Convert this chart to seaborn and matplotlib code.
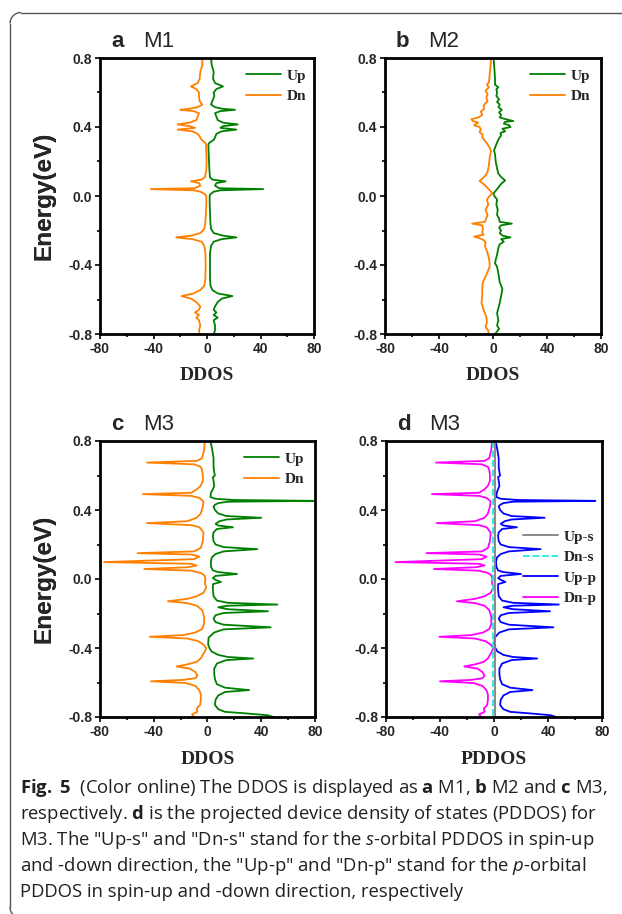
import matplotlib
matplotlib.use('Agg')
import matplotlib.pyplot as plt
import seaborn as sns
from matplotlib.patches import Arc
from matplotlib.ticker import MultipleLocator, FormatStrFormatter
from matplotlib.font_manager import FontProperties

# ---- data: (energy eV, DDOS) ----
m1_up = [(0.80, 3.0), (0.76, 3.5), (0.72, 5), (0.68, 4.5), (0.655, 6), (0.635, 12), (0.62, 7),
         (0.60, 5), (0.58, 5.5), (0.55, 4), (0.53, 3), (0.515, 6), (0.505, 12), (0.50, 21),
         (0.492, 10), (0.48, 6), (0.46, 7), (0.44, 8), (0.425, 12), (0.415, 23), (0.405, 12),
         (0.395, 10), (0.385, 22), (0.375, 11), (0.36, 7), (0.34, 6), (0.325, 5), (0.31, 2),
         (0.30, 1), (0.25, 1.2), (0.20, 1.5), (0.15, 1.8), (0.11, 2.2), (0.095, 4), (0.085, 14),
         (0.075, 7), (0.06, 6), (0.045, 9), (0.04, 42), (0.033, 10), (0.025, 5), (0.01, 2.5),
         (0.0, 2), (-0.05, 2), (-0.10, 2.3), (-0.15, 2.5), (-0.19, 3), (-0.215, 5), (-0.23, 12),
         (-0.24, 22), (-0.25, 11), (-0.265, 5), (-0.29, 3), (-0.33, 2.3), (-0.40, 2.2),
         (-0.48, 2.3), (-0.52, 2.6), (-0.545, 4), (-0.565, 8), (-0.58, 19), (-0.595, 11),
         (-0.615, 8), (-0.64, 6), (-0.66, 5), (-0.675, 7), (-0.69, 5), (-0.705, 8), (-0.72, 5),
         (-0.75, 6), (-0.78, 6), (-0.80, 5)]
m1_dn = [(0.80, -3.5), (0.76, -3.5), (0.72, -5), (0.68, -5.5), (0.655, -7), (0.635, -12),
         (0.62, -8), (0.60, -6), (0.58, -6), (0.55, -5.5), (0.53, -3.5), (0.515, -7),
         (0.505, -14), (0.50, -20), (0.492, -10), (0.48, -6), (0.46, -7), (0.44, -8),
         (0.425, -13), (0.415, -22), (0.405, -13), (0.395, -9), (0.385, -22), (0.375, -11),
         (0.36, -7), (0.34, -5), (0.325, -4), (0.31, -1.5), (0.30, -0.8), (0.25, -0.5),
         (0.20, -0.3), (0.15, -0.5), (0.11, -1.5), (0.095, -4), (0.085, -12), (0.075, -6),
         (0.06, -5), (0.045, -9), (0.04, -42), (0.033, -10), (0.025, -5), (0.01, -1.5),
         (0.0, -0.5), (-0.05, -0.5), (-0.10, -0.8), (-0.15, -1.2), (-0.19, -2), (-0.215, -5),
         (-0.23, -12), (-0.24, -23), (-0.25, -11), (-0.265, -4), (-0.29, -2), (-0.33, -1.2),
         (-0.40, -1), (-0.48, -1.2), (-0.52, -2), (-0.545, -5), (-0.565, -10), (-0.58, -19),
         (-0.595, -12), (-0.615, -8), (-0.64, -5), (-0.66, -6), (-0.675, -9), (-0.69, -6),
         (-0.705, -8), (-0.72, -6), (-0.75, -5), (-0.78, -6), (-0.80, -5.5)]

m2_up = [(0.80, 0.4), (0.74, 1), (0.68, 1.5), (0.645, 1.5), (0.63, 4), (0.62, 2.5), (0.60, 3),
         (0.58, 2.5), (0.56, 4.5), (0.545, 3), (0.53, 5), (0.515, 4), (0.50, 6.5), (0.485, 4.5),
         (0.47, 6), (0.455, 5), (0.44, 12), (0.435, 15), (0.43, 9), (0.42, 8), (0.41, 12),
         (0.40, 13), (0.39, 7), (0.375, 9), (0.365, 5.5), (0.35, 6), (0.335, 4.5), (0.31, 3),
         (0.28, 1.5), (0.265, 0.8), (0.24, 1.5), (0.20, 2), (0.16, 3), (0.13, 4), (0.11, 6),
         (0.09, 9), (0.07, 6), (0.04, 3), (0.015, 0.4), (0.0, 1), (-0.02, 3), (-0.05, 2.5),
         (-0.08, 3.5), (-0.11, 3), (-0.13, 4.5), (-0.15, 5), (-0.16, 14), (-0.17, 6),
         (-0.185, 4.5), (-0.20, 6), (-0.215, 5), (-0.23, 7), (-0.24, 13), (-0.25, 6),
         (-0.265, 8), (-0.28, 5), (-0.30, 4), (-0.34, 3), (-0.37, 2), (-0.39, 1.5), (-0.41, 3),
         (-0.45, 4), (-0.50, 5), (-0.54, 7), (-0.58, 6), (-0.62, 5), (-0.65, 4), (-0.68, 3),
         (-0.72, 4), (-0.75, 3), (-0.77, 4.5), (-0.79, 2.5), (-0.80, 1.6)]
m2_dn = [(0.80, -1.4), (0.74, -2), (0.70, -2.5), (0.66, -3), (0.645, -4.5), (0.63, -3),
         (0.61, -5.5), (0.59, -4), (0.57, -5), (0.55, -4), (0.535, -6), (0.52, -7),
         (0.505, -6.5), (0.49, -9), (0.47, -8), (0.455, -11), (0.445, -16), (0.435, -15),
         (0.425, -11), (0.41, -14), (0.40, -10), (0.385, -9), (0.37, -10), (0.355, -7.5),
         (0.34, -8), (0.32, -6), (0.30, -4), (0.28, -2.5), (0.26, -1.5), (0.22, -2.5),
         (0.18, -3), (0.14, -4), (0.12, -5.5), (0.10, -8), (0.087, -10), (0.07, -7),
         (0.05, -4.5), (0.03, -2), (0.015, -0.5), (0.0, -2.5), (-0.02, -4.5), (-0.05, -3.5),
         (-0.08, -5.5), (-0.11, -4), (-0.13, -5), (-0.15, -6), (-0.16, -15.5), (-0.17, -8),
         (-0.19, -7.5), (-0.21, -8), (-0.225, -7), (-0.235, -14), (-0.245, -10), (-0.255, -7),
         (-0.27, -5.5), (-0.29, -6), (-0.32, -4.5), (-0.36, -3), (-0.39, -2.5), (-0.41, -2.5),
         (-0.45, -4.5), (-0.50, -7.5), (-0.54, -8), (-0.58, -8), (-0.62, -8.5), (-0.66, -7),
         (-0.70, -5), (-0.73, -4.5), (-0.76, -5.5), (-0.78, -3.5), (-0.80, -3.3)]

m3_up = [(0.80, 2.2), (0.75, 3.5), (0.70, 4.5), (0.65, 4.5), (0.62, 5), (0.60, 5.5), (0.59, 4),
         (0.57, 4.5), (0.54, 5), (0.52, 4), (0.50, 2.5), (0.475, 2.2), (0.465, 6), (0.458, 20),
         (0.453, 80), (0.448, 15), (0.44, 8), (0.43, 5.5), (0.42, 4.5), (0.40, 5.5), (0.38, 8),
         (0.365, 14), (0.355, 40), (0.345, 14), (0.335, 9), (0.32, 6), (0.31, 8), (0.30, 19),
         (0.29, 7), (0.27, 4.5), (0.25, 4), (0.22, 4.5), (0.20, 6), (0.185, 12), (0.173, 37),
         (0.16, 12), (0.145, 6), (0.125, 3.2), (0.10, 2.5), (0.07, 2.7), (0.05, 4), (0.04, 8),
         (0.029, 22), (0.018, 6), (0.005, 4), (-0.005, 6), (-0.017, 10), (-0.03, 4),
         (-0.06, 4), (-0.10, 4.5), (-0.125, 7), (-0.138, 15), (-0.148, 52), (-0.155, 15),
         (-0.164, 8), (-0.175, 15), (-0.187, 45), (-0.197, 12), (-0.21, 6), (-0.23, 4.5),
         (-0.25, 6), (-0.265, 12), (-0.28, 47), (-0.292, 12), (-0.31, 5), (-0.34, 0.8),
         (-0.38, 0.5), (-0.40, 1.5), (-0.42, 3), (-0.44, 8), (-0.452, 15), (-0.461, 34),
         (-0.47, 14), (-0.49, 7), (-0.52, 5), (-0.55, 5), (-0.58, 5.5), (-0.61, 7), (-0.63, 13),
         (-0.644, 31), (-0.655, 13), (-0.675, 8), (-0.70, 6), (-0.73, 5.5), (-0.755, 8),
         (-0.77, 13), (-0.78, 30), (-0.79, 45), (-0.80, 49)]
m3_dn = [(0.80, -2), (0.75, -2.5), (0.70, -4), (0.685, -8), (0.675, -45), (0.665, -10),
         (0.65, -5), (0.63, -4), (0.60, -3.5), (0.57, -3.5), (0.54, -5), (0.52, -8),
         (0.50, -12), (0.492, -48), (0.482, -12), (0.47, -6), (0.45, -3), (0.42, -3.5),
         (0.38, -5), (0.355, -8), (0.335, -15), (0.324, -45), (0.312, -12), (0.30, -6),
         (0.27, -3), (0.22, -3.5), (0.18, -5), (0.16, -10), (0.15, -52), (0.142, -12),
         (0.13, -6), (0.115, -10), (0.098, -77), (0.088, -12), (0.078, -8), (0.068, -15),
         (0.058, -47), (0.048, -12), (0.035, -5), (0.02, -2.2), (0.0, -1.5), (-0.02, -2),
         (-0.05, -1), (-0.08, -3), (-0.10, -8), (-0.115, -15), (-0.129, -29.5), (-0.14, -15),
         (-0.155, -8), (-0.18, -4), (-0.22, -2.5), (-0.26, -2.5), (-0.29, -4), (-0.31, -9),
         (-0.325, -18), (-0.335, -43), (-0.345, -15), (-0.36, -7), (-0.38, -3), (-0.40, -1),
         (-0.42, -2), (-0.44, -3.5), (-0.46, -5), (-0.48, -8), (-0.495, -15), (-0.507, -23),
         (-0.52, -13), (-0.54, -9), (-0.56, -7.5), (-0.575, -9), (-0.585, -18), (-0.593, -42),
         (-0.603, -16), (-0.62, -9), (-0.645, -6), (-0.67, -5), (-0.70, -5), (-0.73, -5.5),
         (-0.75, -8), (-0.77, -7.5), (-0.785, -11.5), (-0.80, -10)]

# PDDOS of M3
m3_up_s = [(0.80, 0.5), (0.40, 0.5), (0.0, 0.5), (-0.40, 0.5), (-0.80, 0.5)]
m3_dn_s = [(0.80, -0.6), (0.40, -0.6), (0.0, -0.6), (-0.40, -0.6), (-0.80, -0.6)]
m3_up_p = [(0.80, 1.2), (0.75, 2.5), (0.70, 3.5), (0.65, 3.5), (0.62, 4), (0.60, 4.5), (0.59, 3),
           (0.57, 3.5), (0.54, 4), (0.52, 3), (0.50, 2), (0.475, 1.8), (0.465, 5), (0.458, 18),
           (0.453, 75), (0.448, 14), (0.44, 7), (0.43, 4.5), (0.42, 3.5), (0.40, 4.5), (0.38, 7),
           (0.365, 13), (0.355, 37.5), (0.345, 13), (0.335, 8), (0.32, 5), (0.31, 7), (0.30, 17),
           (0.29, 6), (0.27, 3.5), (0.25, 3), (0.22, 3.5), (0.20, 5), (0.185, 11), (0.173, 34.5),
           (0.16, 11), (0.145, 5), (0.125, 2.2), (0.10, 1.5), (0.07, 1.8), (0.05, 3), (0.04, 7),
           (0.029, 20), (0.018, 5), (0.005, 3), (-0.005, 5), (-0.017, 8.5), (-0.03, 3),
           (-0.06, 3), (-0.10, 3.5), (-0.125, 6), (-0.138, 14), (-0.148, 48), (-0.155, 14),
           (-0.164, 7), (-0.175, 14), (-0.187, 41.5), (-0.197, 11), (-0.21, 5), (-0.23, 3.5),
           (-0.25, 5), (-0.265, 11), (-0.28, 44), (-0.292, 11), (-0.31, 4), (-0.34, 0.5),
           (-0.38, 0.3), (-0.40, 1), (-0.42, 2.5), (-0.44, 7), (-0.452, 14), (-0.461, 32),
           (-0.47, 13), (-0.49, 6), (-0.52, 4), (-0.55, 4), (-0.58, 4.5), (-0.61, 6), (-0.63, 12),
           (-0.644, 28.5), (-0.655, 12), (-0.675, 7), (-0.70, 5), (-0.73, 4.5), (-0.755, 7),
           (-0.77, 12), (-0.78, 28), (-0.79, 42), (-0.80, 46)]
m3_dn_p = [(0.80, -1.5), (0.75, -2), (0.70, -3.5), (0.685, -7), (0.675, -43), (0.665, -9),
           (0.65, -4.5), (0.63, -3.5), (0.60, -3), (0.57, -3), (0.54, -4.5), (0.52, -7),
           (0.50, -11), (0.492, -46), (0.482, -11), (0.47, -5.5), (0.45, -2.5), (0.42, -3),
           (0.38, -4.5), (0.355, -7), (0.335, -14), (0.324, -42.5), (0.312, -11), (0.30, -5.5),
           (0.27, -2.5), (0.22, -3), (0.18, -4.5), (0.16, -9), (0.15, -50), (0.142, -11),
           (0.13, -5.5), (0.115, -9), (0.098, -73), (0.088, -11), (0.078, -7), (0.068, -14),
           (0.058, -44.5), (0.048, -11), (0.035, -4.5), (0.02, -1.8), (0.0, -1.2), (-0.02, -1.5),
           (-0.05, -0.5), (-0.08, -2.5), (-0.10, -7), (-0.115, -14), (-0.129, -27.5), (-0.14, -14),
           (-0.155, -7), (-0.18, -3.5), (-0.22, -2), (-0.26, -2), (-0.29, -3.5), (-0.31, -8),
           (-0.325, -17), (-0.335, -40.5), (-0.345, -14), (-0.36, -6.5), (-0.38, -2.5),
           (-0.40, -0.5), (-0.42, -1.5), (-0.44, -3), (-0.46, -4.5), (-0.48, -7.5), (-0.495, -14),
           (-0.507, -22), (-0.52, -12), (-0.54, -8.5), (-0.56, -7), (-0.575, -8.5), (-0.585, -17),
           (-0.593, -40), (-0.603, -15), (-0.62, -8.5), (-0.645, -5.5), (-0.67, -4.5), (-0.70, -4.5),
           (-0.73, -5), (-0.75, -7.5), (-0.77, -7), (-0.785, -11), (-0.80, -9.5)]

x_ticks = [-80, -40, 0, 40, 80]
y_ticks = [-0.8, -0.4, 0.0, 0.4, 0.8]

caption = [
    r'$\mathbf{Fig.}$ $\mathbf{5}$  (Color online) The DDOS is displayed as $\mathbf{a}$ M1, $\mathbf{b}$ M2 and $\mathbf{c}$ M3,',
    r'respectively. $\mathbf{d}$ is the projected device density of states (PDDOS) for',
    r'M3. The "Up-s" and "Dn-s" stand for the $\mathit{s}$-orbital PDDOS in spin-up',
    r'and -down direction, the "Up-p" and "Dn-p" stand for the $\mathit{p}$-orbital',
    r'PDDOS in spin-up and -down direction, respectively',
]

GREEN, ORANGE = '#008000', '#ff8000'
BLUE, MAGENTA, GRAY, CYAN = '#0000ff', '#ff00ff', '#808080', '#22e6e6'

sns.set_theme(style='ticks')
plt.rcParams['font.family'] = ['Liberation Sans', 'DejaVu Sans']
plt.rcParams['axes.unicode_minus'] = False
plt.rcParams['mathtext.fontset'] = 'custom'
plt.rcParams['mathtext.rm'] = 'Open Sans'
plt.rcParams['mathtext.bf'] = 'Open Sans:bold'
plt.rcParams['mathtext.it'] = 'Open Sans:italic'

W, H = 622, 914
fig = plt.figure(figsize=(W / 100, H / 100), dpi=100)
fig.patch.set_facecolor('white')

# background axes in pixel units for frame, labels and caption
bg = fig.add_axes([0, 0, 1, 1], zorder=-1)
bg.set_xlim(0, W)
bg.set_ylim(H, 0)
bg.axis('off')
R = 11
frame = dict(color='#555555', lw=1.0)
bg.plot([10 + R, W + 5], [12.5, 12.5], **frame)
bg.plot([10, 10], [12.5 + R, 918 - R], **frame)
bg.add_patch(Arc((10 + R, 12.5 + R), 2 * R, 2 * R, theta1=180, theta2=270, **frame))
bg.add_patch(Arc((10 + R, 918 - R), 2 * R, 2 * R, theta1=90, theta2=180, **frame))

serif_bold = FontProperties(family='Liberation Serif', weight='bold', size=11)
label_font = FontProperties(family='Liberation Serif', weight='bold', size=14)


def px_rect(left, top, right, bottom):
    return [left / W, 1 - bottom / H, (right - left) / W, (bottom - top) / H]


def draw_panel(box, series, letter, name, xlabel, legend_pos, order=None):
    left, top, right, bottom = box
    ax = fig.add_axes(px_rect(left, top, right, bottom))
    for pts, color, label, ls in series:
        e = [p[0] for p in pts]
        v = [p[1] for p in pts]
        sns.lineplot(x=v, y=e, ax=ax, color=color, lw=1.3, linestyle=ls, label=label,
                     sort=False, estimator=None, orient='y', legend=False)
    ax.set_xlim(-80, 80)
    ax.set_ylim(-0.8, 0.8)
    ax.set_xticks(x_ticks)
    ax.set_yticks(y_ticks)
    ax.yaxis.set_major_formatter(FormatStrFormatter('%.1f'))
    ax.xaxis.set_minor_locator(MultipleLocator(20))
    ax.yaxis.set_minor_locator(MultipleLocator(0.2))
    ax.tick_params(which='both', direction='out', width=1.2, color='black')
    ax.tick_params(which='major', length=3.5, pad=2, labelsize=10)
    ax.tick_params(which='minor', length=2.5)
    for lab in ax.get_xticklabels() + ax.get_yticklabels():
        lab.set_fontweight('bold')
    for sp in ax.spines.values():
        sp.set_linewidth(2)
        sp.set_color('black')
    ax.set_xlabel('')
    ax.set_ylabel('')
    lines = {l.get_label(): l for l in ax.get_lines()}
    labels = order if order else [s[2] for s in series]
    lx = (legend_pos[0] - left) / (right - left)
    ly = (bottom - legend_pos[1]) / (bottom - top)
    ax.legend([lines[k] for k in labels], labels, loc='upper left', bbox_to_anchor=(lx, ly),
              frameon=False, prop=serif_bold, borderpad=0, borderaxespad=0,
              handlelength=2.3, handletextpad=0.35, labelspacing=0.45)

    bg.text(left + 11, top - 11, letter, weight='bold', size=16, va='baseline', ha='left')
    bg.text(left + 43, top - 11, name, size=16, va='baseline', ha='left')
    bg.text(44, (top + bottom) / 2, 'Energy(eV)', weight='bold', size=17.5, rotation=90,
            ha='center', va='center')
    bg.text((left + right) / 2, bottom + 42, xlabel, fontproperties=label_font,
            ha='center', va='center')
    return ax


draw_panel((100, 58, 314, 334), [(m1_up, GREEN, 'Up', '-'), (m1_dn, ORANGE, 'Dn', '-')],
           'a', 'M1', 'DDOS', (246, 69))
draw_panel((385, 58, 601, 334), [(m2_up, GREEN, 'Up', '-'), (m2_dn, ORANGE, 'Dn', '-')],
           'b', 'M2', 'DDOS', (530, 69))
draw_panel((100, 441, 315, 717), [(m3_up, GREEN, 'Up', '-'), (m3_dn, ORANGE, 'Dn', '-')],
           'c', 'M3', 'DDOS', (244, 452))
draw_panel((386, 441, 602, 717),
           [(m3_up_p, BLUE, 'Up-p', '-'), (m3_dn_p, MAGENTA, 'Dn-p', '-'),
            (m3_up_s, GRAY, 'Up-s', '-'), (m3_dn_s, CYAN, 'Dn-s', '--')],
           'd', 'M3', 'PDDOS', (523, 530), order=['Up-s', 'Dn-s', 'Up-p', 'Dn-p'])

# caption (bold / italic runs via mathtext)
cap_font = FontProperties(family='Open Sans', size=13.3)
for i, line in enumerate(caption):
    bg.text(20, 793 + 26 * i, line, fontproperties=cap_font, va='baseline', ha='left',
            color='#231f20')

fig.savefig('out.png', dpi=100)
